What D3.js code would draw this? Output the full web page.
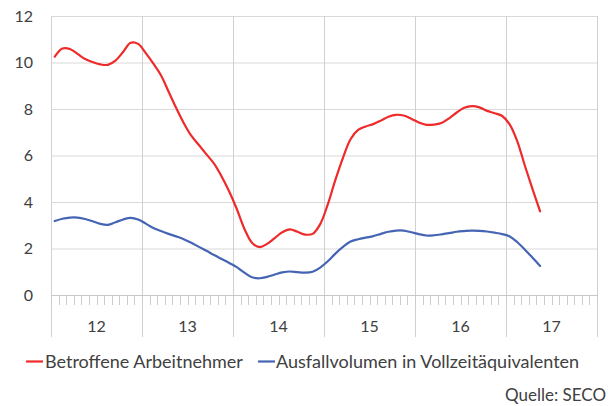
<!DOCTYPE html>
<html>
<head>
<meta charset="utf-8">
<script src="https://cdn.jsdelivr.net/npm/d3@7"></script>
<style>
  html, body { margin: 0; padding: 0; background: #fff; }
  svg { display: block; font-family: Lato, "Open Sans", sans-serif; }
</style>
</head>
<body>
<svg id="chart" width="608" height="406"></svg>
<script>
// Monthly values, Jan 2012 – May 2017 (thousands)
const years = ["12", "13", "14", "15", "16", "17"];
const yTicks = [0, 2, 4, 6, 8, 10, 12];
const seriesNames = ["Betroffene Arbeitnehmer", "Ausfallvolumen in Vollzeitäquivalenten"];
const betroffene = [10.25,10.6,10.58,10.37,10.15,10.02,9.92,9.9,10.08,10.45,10.85,10.8,10.4,
  9.95,9.45,8.75,8.05,7.4,6.85,6.45,6.05,5.65,5.1,4.45,3.7,
  2.85,2.25,2.06,2.2,2.45,2.7,2.82,2.72,2.6,2.63,3.05,3.9,
  4.95,5.9,6.7,7.1,7.25,7.35,7.5,7.67,7.75,7.72,7.58,7.42,
  7.32,7.33,7.4,7.6,7.85,8.05,8.12,8.07,7.92,7.82,7.7,7.33,
  6.6,5.55,4.55,3.6];
const ausfall = [3.18,3.28,3.33,3.33,3.27,3.17,3.06,3.02,3.13,3.25,3.32,3.25,3.07,
  2.88,2.75,2.63,2.52,2.4,2.25,2.07,1.9,1.72,1.55,1.38,1.2,
  0.96,0.76,0.72,0.78,0.88,0.97,1.01,0.98,0.96,1.0,1.18,1.45,
  1.78,2.07,2.3,2.4,2.47,2.53,2.63,2.72,2.77,2.77,2.7,2.62,
  2.56,2.57,2.61,2.66,2.72,2.75,2.77,2.76,2.73,2.68,2.62,2.52,
  2.27,1.95,1.6,1.25];
const colors = ["#ee2a2a", "#4565b4"];

const svg = d3.select("#chart");
const plotLeft = 51, plotRight = 597, plotTop = 16, plotBottom = 295;
const nMonths = years.length * 12;

// month boundaries on a linear scale; points sit in the middle of each month
const x = d3.scaleLinear().domain([0, nMonths]).range([plotLeft, plotRight]);
const y = d3.scaleLinear().domain([0, 12]).range([plotBottom, plotTop]);

const grid = svg.append("g");
// horizontal gridlines
grid.selectAll("line.h").data(yTicks).join("line")
  .attr("x1", plotLeft).attr("x2", plotRight)
  .attr("y1", d => y(d) + 0.5).attr("y2", d => y(d) + 0.5)
  .attr("stroke", "#d9d9d9").attr("stroke-width", 1);
// vertical year lines, running down into the label band
grid.selectAll("line.v").data(d3.range(years.length + 1)).join("line")
  .attr("x1", d => Math.round(x(d * 12)) + 0.5).attr("x2", d => Math.round(x(d * 12)) + 0.5)
  .attr("y1", plotTop).attr("y2", 337)
  .attr("stroke", "#d0d0d0").attr("stroke-width", 1);
// monthly minor ticks below the baseline
grid.selectAll("line.m").data(d3.range(nMonths + 1)).join("line")
  .attr("x1", d => Math.round(x(d)) + 0.5).attr("x2", d => Math.round(x(d)) + 0.5)
  .attr("y1", plotBottom).attr("y2", 305)
  .attr("stroke", "#cccccc").attr("stroke-width", 1);
// baseline
grid.append("line")
  .attr("x1", plotLeft).attr("x2", plotRight)
  .attr("y1", plotBottom + 0.5).attr("y2", plotBottom + 0.5)
  .attr("stroke", "#c8c8c8");

// y axis labels
const yAxis = d3.axisLeft(y).tickValues(yTicks).tickSize(0).tickPadding(18);
const gy = svg.append("g").attr("transform", `translate(${plotLeft},0)`).call(yAxis);
gy.select(".domain").remove();
gy.selectAll("text").attr("font-size", 16).attr("fill", "#404040")
  .attr("font-family", "Lato, 'Open Sans', sans-serif");

// year labels centred in each year
svg.append("g").selectAll("text").data(years).join("text")
  .attr("x", (d, i) => x(i * 12 + 6))
  .attr("y", 332)
  .attr("text-anchor", "middle")
  .attr("font-size", 16).attr("fill", "#404040")
  .text(d => d);

// series lines
const line = d3.line()
  .x((d, i) => x(i + 0.5))
  .y(d => y(d))
  .curve(d3.curveCatmullRom.alpha(0.5));

[betroffene, ausfall].forEach((s, k) => {
  svg.append("path").datum(s)
    .attr("d", line)
    .attr("fill", "none")
    .attr("stroke", colors[k])
    .attr("stroke-width", 2.2)
    .attr("stroke-linejoin", "round")
    .attr("stroke-linecap", "round");
});

// legend
const legendPos = [{lx: 26, tx: 45}, {lx: 258, tx: 276}];
const lg = svg.append("g");
seriesNames.forEach((name, k) => {
  lg.append("line")
    .attr("x1", legendPos[k].lx).attr("x2", legendPos[k].lx + 17)
    .attr("y1", 361.5).attr("y2", 361.5)
    .attr("stroke", colors[k]).attr("stroke-width", 2.2);
  lg.append("text")
    .attr("x", legendPos[k].tx).attr("y", 368)
    .attr("font-size", 18).attr("fill", "#404040")
    .text(name);
});

// source note
svg.append("text")
  .attr("x", 606).attr("y", 401)
  .attr("text-anchor", "end")
  .attr("font-size", 17).attr("fill", "#404040")
  .text("Quelle: SECO");
</script>
</body>
</html>
